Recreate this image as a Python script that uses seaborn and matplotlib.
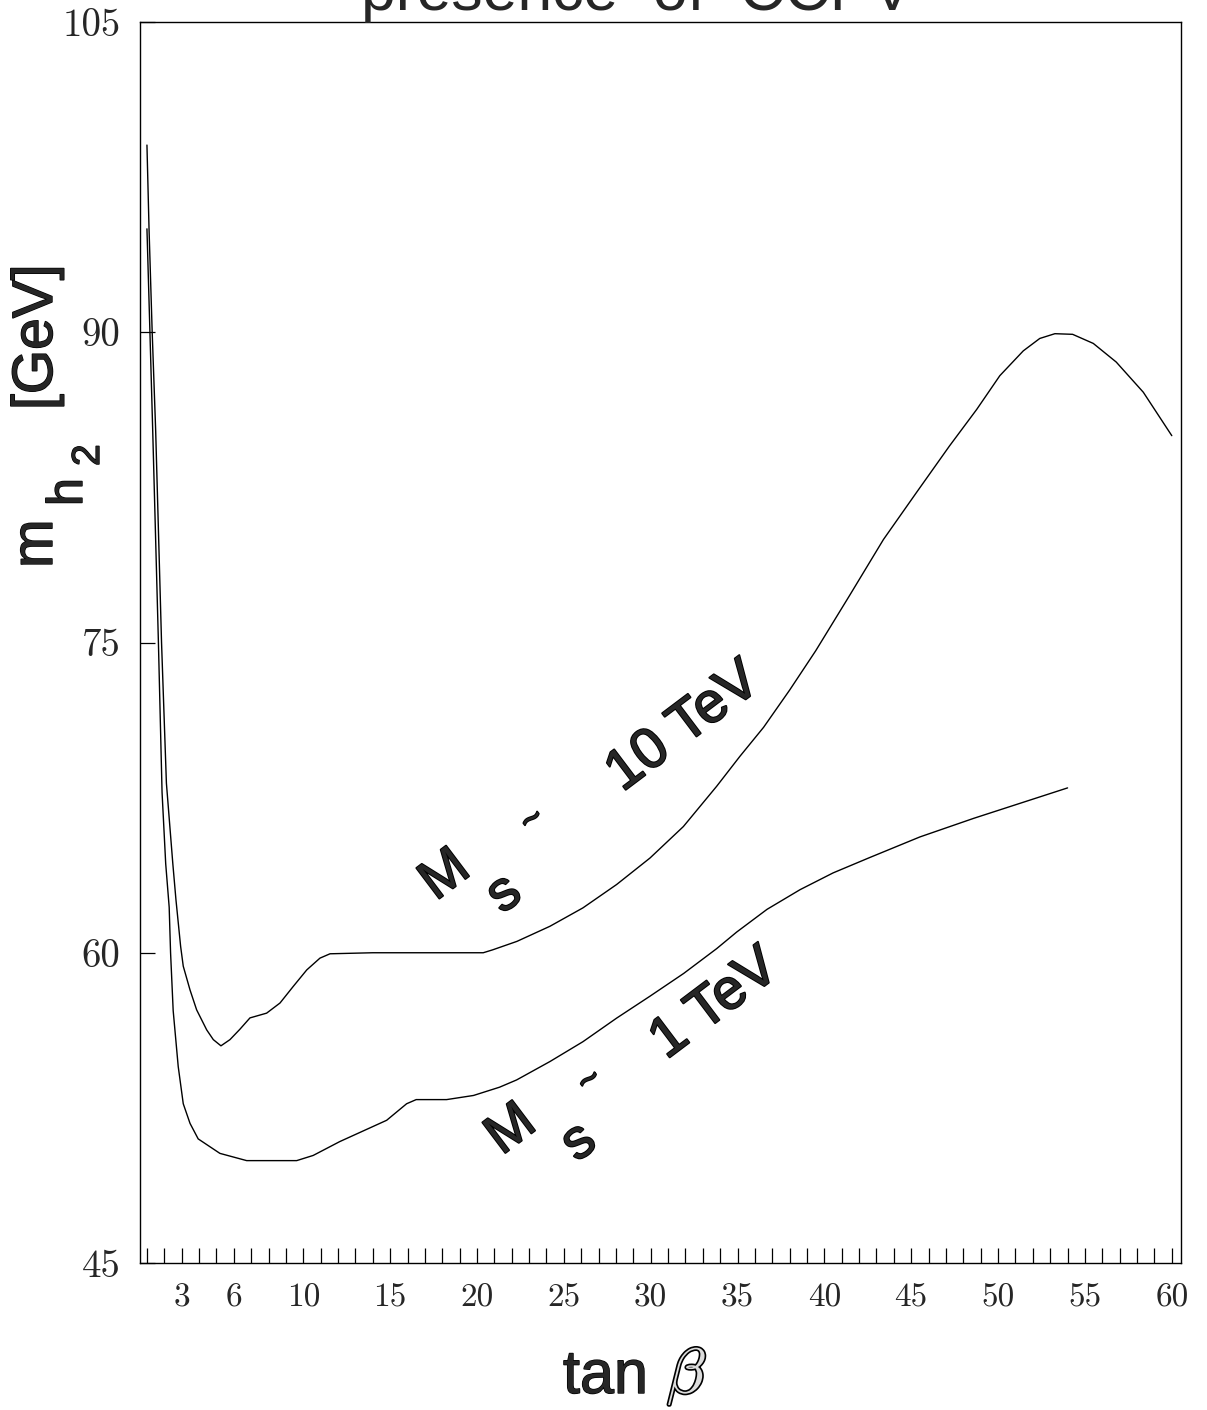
import matplotlib
matplotlib.use("Agg")
import matplotlib.pyplot as plt
import matplotlib.patheffects as pe
import seaborn as sns
import pandas as pd

# ---- data ----
tanb_10tev = [1.0, 1.12, 1.3, 1.5, 1.84, 2.12, 2.49, 2.67, 2.94, 3.09, 3.48, 3.86, 4.44, 4.82,
              5.26, 5.78, 6.35, 6.93, 7.89, 8.66, 9.42, 10.2, 10.96, 11.54, 14.0, 17.0, 20.36,
              20.9, 22.3, 24.2, 26.1, 28.04, 29.96, 31.88, 33.8, 35.14, 36.5, 38.0, 39.5, 41.47,
              43.4, 45.3, 47.2, 48.77, 50.1, 51.45, 52.4, 53.27, 54.29, 55.48, 56.8, 58.36, 60.0]
mh2_10tev = [99.05, 95.0, 90.05, 85.3, 75.0, 68.2, 64.3, 62.56, 60.3, 59.35, 58.2, 57.24, 56.27, 55.8,
             55.5, 55.8, 56.3, 56.85, 57.08, 57.57, 58.37, 59.17, 59.74, 59.95, 60.0, 60.0, 60.0,
             60.14, 60.55, 61.28, 62.17, 63.3, 64.58, 66.1, 68.05, 69.5, 70.9, 72.7, 74.6, 77.3,
             79.98, 82.25, 84.5, 86.27, 87.9, 89.1, 89.7, 89.93, 89.9, 89.46, 88.56, 87.1, 85.0]

tanb_1tev = [1.0, 1.17, 1.33, 1.66, 1.87, 2.08, 2.28, 2.36, 2.51, 2.8, 3.09, 3.48, 3.95, 5.2, 6.74,
             9.62, 10.57, 12.1, 14.8, 15.95, 16.5, 18.25, 19.8, 21.3, 22.28, 24.2, 26.1, 28.04,
             29.96, 31.9, 33.8, 34.95, 36.7, 38.6, 40.5, 42.6, 45.5, 48.6, 54.0]
mh2_1tev = [95.0, 90.05, 85.3, 75.0, 67.75, 64.3, 62.2, 60.0, 57.2, 54.5, 52.7, 51.75, 51.0, 50.3, 49.95,
            49.95, 50.2, 50.87, 51.9, 52.7, 52.9, 52.9, 53.1, 53.5, 53.85, 54.74, 55.7, 56.84,
            57.9, 59.0, 60.2, 61.0, 62.1, 63.05, 63.86, 64.6, 65.6, 66.5, 67.97]

xtick_labels = [3, 6, 10, 15, 20, 25, 30, 35, 40, 45, 50, 55, 60]
ytick_values = [45, 60, 75, 90, 105]

df = pd.concat([
    pd.DataFrame({"tanb": tanb_10tev, "mh2": mh2_10tev, "Ms": "10 TeV"}),
    pd.DataFrame({"tanb": tanb_1tev, "mh2": mh2_1tev, "Ms": "1 TeV"}),
], ignore_index=True)

sns.set_style("white")
plt.rcParams["font.family"] = ["Liberation Sans", "DejaVu Sans"]
plt.rcParams["mathtext.fontset"] = "cm"

W, H = 1207, 1410
fig = plt.figure(figsize=(W / 100, H / 100), dpi=100)
ax = fig.add_axes([140 / W, 1 - 1263 / H, (1181 - 140) / W, (1263 - 22) / H])

sns.lineplot(data=df, x="tanb", y="mh2", hue="Ms", units="Ms", estimator=None,
             palette=["black", "black"], linewidth=1.0, legend=False, ax=ax, sort=False)

ax.set_xlim(0.6, 60.53)
ax.set_ylim(45, 105)
ax.set_xlabel("")
ax.set_ylabel("")

xt = list(range(1, 61))
ax.set_xticks(xt)
ax.set_xticklabels([str(v) if v in xtick_labels else "" for v in xt],
                   fontfamily="cmr10", fontsize=24)
ax.set_yticks(ytick_values)
ax.set_yticklabels([str(v) for v in ytick_values], fontfamily="cmr10", fontsize=28)
ax.tick_params(axis="x", direction="in", length=11, width=0.9, color="black", pad=15,
               bottom=True, top=False)
ax.tick_params(axis="y", direction="in", length=11, width=0.9, color="black", pad=14,
               left=True, right=False)
for s in ax.spines.values():
    s.set_color("black")
    s.set_linewidth(1.0)
    s.set_visible(True)

thick = [pe.Stroke(linewidth=1.0, foreground="black"), pe.Normal()]
medium = [pe.Stroke(linewidth=1.4, foreground="black"), pe.Normal()]

# clipped title at very top
fig.text(637 / W, 1 - 10 / H, "presence  of  CCPV", ha="center", va="baseline", fontsize=45)

# y label, built from pieces (rotated)
def ytxt(xb, yb, s, size):
    fig.text(xb / W, 1 - yb / H, s, rotation=90, rotation_mode="anchor",
             ha="left", va="baseline", fontsize=size, path_effects=thick)

ytxt(52, 568, "m", 42)
ytxt(82, 506, "h", 36)
ytxt(99, 466, "2", 28)
ytxt(52, 410, "[GeV]", 41)

# x label
fig.text(563 / W, 1 - 1393 / H, "tan", ha="left", va="baseline", fontsize=44,
         path_effects=thick)
fig.text(667 / W, 1 - 1393 / H, r"$\beta$", ha="left", va="baseline", fontsize=46,
         color="#dcdcdc",
         path_effects=[pe.Stroke(linewidth=2.4, foreground="black"), pe.Normal()])

# curve annotations
rot = 37
def lab(x, y, s, size=40):
    ax.text(x, y, s, rotation=rot, rotation_mode="anchor", ha="center", va="center",
            fontsize=size, path_effects=medium)

lab(18.2, 63.7, "M")
lab(21.6, 62.8, "s")
lab(23.2, 66.4, "~", size=26)
lab(31.9, 70.9, "10 TeV", size=41)

lab(22.0, 51.4, "M")
lab(25.9, 50.8, "s")
lab(26.5, 53.8, "~", size=26)
lab(33.7, 57.5, "1 TeV", size=41)

fig.savefig("out.png", dpi=100)
